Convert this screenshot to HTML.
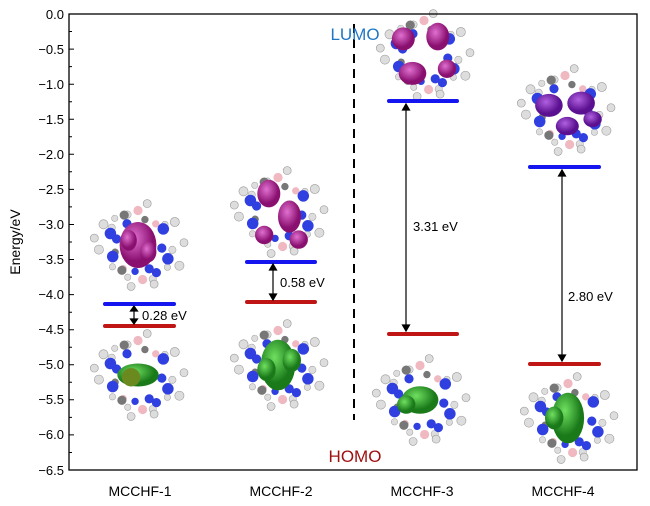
<!DOCTYPE html>
<html><head><style>
body{margin:0;background:#fff;}
svg{display:block;font-family:"Liberation Sans",Arial,sans-serif;}
</style></head><body>
<svg width="650" height="506" viewBox="0 0 650 506">
<defs>
<radialGradient id="pk" cx="40%" cy="35%"><stop offset="0" stop-color="#e070d0"/><stop offset="1" stop-color="#8a1070"/></radialGradient>
<radialGradient id="pp" cx="40%" cy="35%"><stop offset="0" stop-color="#b060e0"/><stop offset="1" stop-color="#5a1090"/></radialGradient>
<radialGradient id="gr" cx="40%" cy="35%"><stop offset="0" stop-color="#70e060"/><stop offset="1" stop-color="#1a7a1a"/></radialGradient>
<g id="atoms">
<circle cx="-30" cy="-18" r="4" fill="#ddd" stroke="#999" stroke-width=".5"/>
<circle cx="-24" cy="-10" r="5" fill="#3040e0"/>
<circle cx="-34" cy="4" r="4" fill="#ddd" stroke="#999" stroke-width=".5"/>
<circle cx="-22" cy="10" r="5" fill="#3040e0"/>
<circle cx="-14" cy="22" r="4" fill="#777"/>
<circle cx="0" cy="-30" r="4" fill="#f0b8c0"/>
<circle cx="8" cy="-36" r="3.5" fill="#ddd" stroke="#999" stroke-width=".5"/>
<circle cx="22" cy="-14" r="5" fill="#3040e0"/>
<circle cx="32" cy="-20" r="4" fill="#ddd" stroke="#999" stroke-width=".5"/>
<circle cx="26" cy="12" r="5" fill="#3040e0"/>
<circle cx="36" cy="18" r="4" fill="#ddd" stroke="#999" stroke-width=".5"/>
<circle cx="4" cy="30" r="4" fill="#f0b8c0"/>
<circle cx="-6" cy="36" r="3.5" fill="#ddd" stroke="#999" stroke-width=".5"/>
<circle cx="14" cy="34" r="3.5" fill="#ddd" stroke="#999" stroke-width=".5"/>
<circle cx="-38" cy="-6" r="3.5" fill="#ddd" stroke="#999" stroke-width=".5"/>
<circle cx="40" cy="-2" r="3.5" fill="#ddd" stroke="#999" stroke-width=".5"/>
<circle cx="-12" cy="-26" r="4" fill="#777"/>
<circle cx="16" cy="24" r="4" fill="#3040e0"/>
</g>
<g id="mol"><g transform="rotate(40) scale(0.8)"><use href="#atoms"/></g><use href="#atoms"/></g>
</defs>
<g transform="translate(138,245) scale(1.15)"><use href="#mol"/><ellipse cx="0" cy="0" rx="16" ry="20" fill="url(#pk)"/><ellipse cx="-8" cy="-4" rx="7" ry="9" fill="url(#pk)"/><ellipse cx="9" cy="6" rx="7" ry="9" fill="url(#pk)"/></g>
<g transform="translate(138,375) scale(1.15)"><use href="#mol"/><ellipse cx="0" cy="0" rx="18" ry="10" fill="url(#gr)"/><ellipse cx="-6" cy="2" rx="8" ry="8" fill="#6a8a20"/></g>
<g transform="translate(278,212) scale(1.15)"><use href="#mol"/><ellipse cx="-8" cy="-16" rx="10" ry="12" fill="url(#pk)"/><ellipse cx="10" cy="4" rx="10" ry="14" fill="url(#pk)"/><ellipse cx="-12" cy="20" rx="8" ry="8" fill="url(#pk)"/><ellipse cx="18" cy="24" rx="8" ry="8" fill="url(#pk)"/></g>
<g transform="translate(278,365) scale(1.15)"><use href="#mol"/><ellipse cx="0" cy="0" rx="15" ry="22" fill="url(#gr)"/><ellipse cx="-10" cy="4" rx="8" ry="10" fill="url(#gr)"/><ellipse cx="12" cy="-4" rx="8" ry="10" fill="url(#gr)"/></g>
<g transform="translate(424,55) scale(1.15)"><use href="#mol"/><ellipse cx="-18" cy="-14" rx="10" ry="10" fill="url(#pk)"/><ellipse cx="12" cy="-16" rx="10" ry="12" fill="url(#pk)"/><ellipse cx="-10" cy="16" rx="12" ry="10" fill="url(#pk)"/><ellipse cx="20" cy="12" rx="8" ry="8" fill="url(#pk)"/></g>
<g transform="translate(420,400) scale(1.15)"><use href="#mol"/><ellipse cx="0" cy="0" rx="16" ry="12" fill="url(#gr)"/><ellipse cx="-12" cy="4" rx="8" ry="8" fill="url(#gr)"/></g>
<g transform="translate(565,110) scale(1.15)"><use href="#mol"/><ellipse cx="-14" cy="-4" rx="12" ry="10" fill="url(#pp)"/><ellipse cx="14" cy="-6" rx="12" ry="10" fill="url(#pp)"/><ellipse cx="2" cy="14" rx="10" ry="8" fill="url(#pp)"/><ellipse cx="24" cy="8" rx="8" ry="7" fill="url(#pp)"/></g>
<g transform="translate(568,418) scale(1.15)"><use href="#mol"/><ellipse cx="0" cy="0" rx="14" ry="22" fill="url(#gr)"/><ellipse cx="-12" cy="0" rx="8" ry="10" fill="url(#gr)"/></g>
<rect x="69" y="14" width="568" height="456" fill="none" stroke="#000" stroke-width="1.3"/>
<g stroke="#000" stroke-width="1">
<path d="M69 14h5M69 49.1h5M69 84.2h5M69 119.2h5M69 154.3h5M69 189.4h5M69 224.5h5M69 259.5h5M69 294.6h5M69 329.7h5M69 364.8h5M69 399.8h5M69 434.9h5"/>
<path d="M69 31.5h3M69 66.6h3M69 101.7h3M69 136.8h3M69 171.8h3M69 206.9h3M69 242h3M69 277.1h3M69 312.2h3M69 347.2h3M69 382.3h3M69 417.4h3M69 452.5h3"/>
</g>
<g font-size="13" text-anchor="end" fill="#000">
<text x="64" y="19">0.0</text><text x="64" y="54">−0.5</text><text x="64" y="89">−1.0</text><text x="64" y="124">−1.5</text><text x="64" y="159">−2.0</text><text x="64" y="194">−2.5</text><text x="64" y="229">−3.0</text><text x="64" y="264">−3.5</text><text x="64" y="299">−4.0</text><text x="64" y="334">−4.5</text><text x="64" y="369">−5.0</text><text x="64" y="404">−5.5</text><text x="64" y="439">−6.0</text><text x="64" y="475">−6.5</text>
</g>
<text transform="translate(20,242) rotate(-90)" font-size="14" text-anchor="middle">Energy/eV</text>
<g font-size="14" text-anchor="middle">
<text x="140" y="496">MCCHF-1</text><text x="281" y="496">MCCHF-2</text><text x="422" y="496">MCCHF-3</text><text x="563" y="496">MCCHF-4</text>
</g>
<line x1="354" y1="24" x2="354" y2="420" stroke="#000" stroke-width="2" stroke-dasharray="9,6"/>
<text x="355" y="40" font-size="17" fill="#1f77c4" text-anchor="middle">LUMO</text>
<text x="355" y="462" font-size="17" fill="#a01010" text-anchor="middle">HOMO</text>
<g stroke-width="4" stroke-linecap="round">
<line x1="105" y1="304" x2="174" y2="304" stroke="#1515f0"/><line x1="105" y1="326" x2="174" y2="326" stroke="#c01515"/>
<line x1="247" y1="262" x2="315" y2="262" stroke="#1515f0"/><line x1="247" y1="302" x2="315" y2="302" stroke="#c01515"/>
<line x1="389" y1="101" x2="457" y2="101" stroke="#1515f0"/><line x1="389" y1="334" x2="457" y2="334" stroke="#c01515"/>
<line x1="530" y1="167" x2="599" y2="167" stroke="#1515f0"/><line x1="530" y1="364" x2="599" y2="364" stroke="#c01515"/>
</g>
<g stroke="#000" stroke-width="1.2" fill="#000">
<line x1="134" y1="309" x2="134" y2="321"/><path d="M130.5 311l3.5-5 3.5 5z M130.5 319l3.5 5 3.5-5z"/>
<line x1="273" y1="268" x2="273" y2="296"/><path d="M269.5 270l3.5-6 3.5 6z M269.5 294l3.5 6 3.5-6z"/>
<line x1="406" y1="107" x2="406" y2="328"/><path d="M402.5 110l3.5-6 3.5 6z M402.5 325l3.5 6 3.5-6z"/>
<line x1="562" y1="173" x2="562" y2="358"/><path d="M558.5 176l3.5-6 3.5 6z M558.5 355l3.5 6 3.5-6z"/>
</g>
<g font-size="13">
<text x="142" y="320">0.28 eV</text><text x="280" y="287">0.58 eV</text><text x="413" y="231">3.31 eV</text><text x="568" y="301">2.80 eV</text>
</g>
</svg>
</body></html>
